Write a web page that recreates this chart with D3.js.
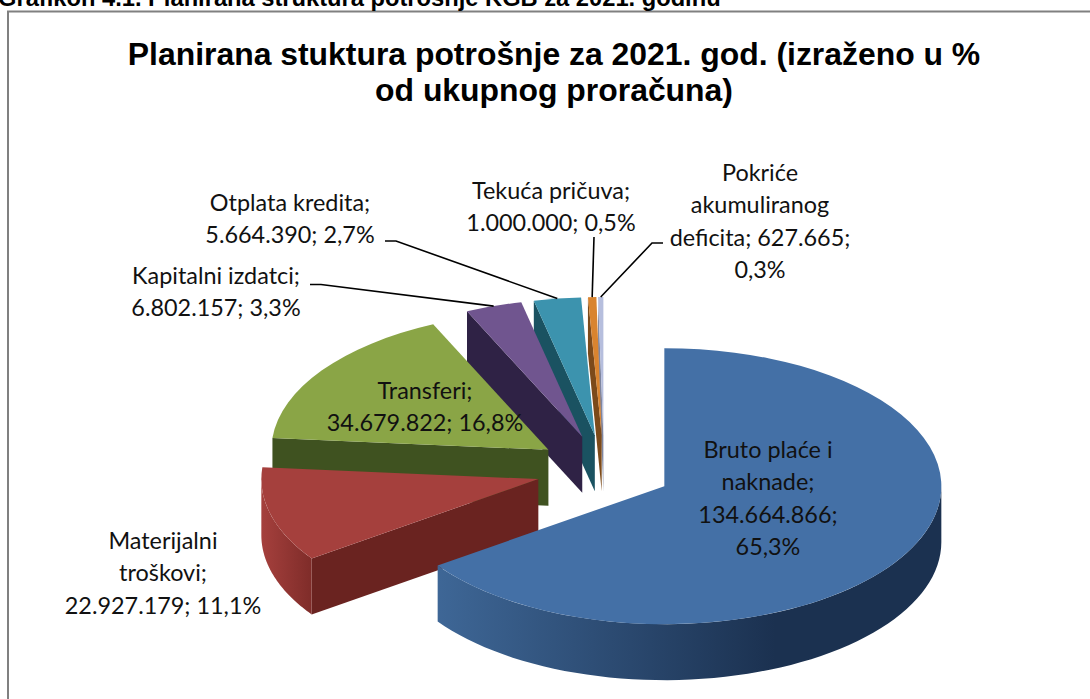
<!DOCTYPE html>
<html><head><meta charset="utf-8">
<style>html,body{margin:0;padding:0;background:#fff;overflow:hidden}svg{display:block}text{fill:#111}</style>
<script src="https://cdn.jsdelivr.net/npm/d3@7"></script></head>
<body><svg id="c" width="1090" height="699"></svg>
<script>
const categories = ["Bruto plaće i naknade","Materijalni troškovi","Transferi","Kapitalni izdatci","Otplata kredita","Tekuća pričuva","Pokriće akumuliranog deficita"];
const values = [134664866,22927179,34679822,6802157,5664390,1000000,627665];
const valueLabels = ["134.664.866","22.927.179","34.679.822","6.802.157","5.664.390","1.000.000","627.665"];
const percentLabels = ["65,3%","11,1%","16,8%","3,3%","2,7%","0,5%","0,3%"];
const topColors = ["#4470a6","#a5403d","#8aa546","#70558f","#3c93ae","#d9842f","#b6bedd"];
const wallColors = ["#3f6898","#6a2320","#3f5220","#2f2245","#1a5261","#7c4a1a","#7f86a0"];
const curveEnd = ["#1b3150","#7b2a27","#3f5220","#2f2245","#1a5261","#7c4a1a","#7f86a0"];
const titleLines = ["Planirana stuktura potrošnje za 2021. god. (izraženo u %","od ukupnog proračuna)"];
const headerText = "Grafikon 4.1. Planirana struktura potrošnje KGB za 2021. godinu";

const svg = d3.select("#c");
const Rx = 277, Ry = 138, depth = 56, cx = 604, cy = 470, ex = 68, ey = 35;

const slices = d3.pie().sort(null).value(d=>d)(values).map((s,i)=>{
  const mid=(s.startAngle+s.endAngle)/2;
  return {...s,i,mid,x:cx+ex*Math.sin(mid),y:cy-ey*Math.cos(mid)};
});
const pt=(s,a,dz=0)=>[s.x+Rx*Math.sin(a),s.y-Ry*Math.cos(a)+dz];
const arc=d3.arc().innerRadius(0).outerRadius(Rx);
const line=d3.line();

// frame + header
svg.append("path").attr("d","M8,699V11.5H1090").attr("fill","none").attr("stroke","#808080").attr("stroke-width",2);
svg.append("text").attr("x",-2).attr("y",6).attr("font-family","Liberation Sans").attr("font-weight","bold").attr("font-size",23.7).style("fill","#000").text(headerText);

// title
svg.selectAll("text.t").data(titleLines).join("text").attr("class","t")
  .attr("x",554).attr("y",(d,i)=>65+i*36).attr("text-anchor","middle")
  .attr("font-family","Liberation Sans").attr("font-weight","bold").attr("font-size",31.9).style("fill","#000").text(d=>d);

const defs=svg.append("defs");
slices.forEach(s=>{
  const g=defs.append("linearGradient").attr("id","w"+s.i).attr("gradientUnits","userSpaceOnUse")
    .attr("x1",s.i===1?s.x-Rx:s.x-Rx*0.85).attr("x2",s.i===1?s.x-Rx*0.8:s.x+Rx*0.4).attr("y1",0).attr("y2",0);
  g.append("stop").attr("offset",0).attr("stop-color",s.i===1?"#a5403d":wallColors[s.i]);
  g.append("stop").attr("offset",1).attr("stop-color",curveEnd[s.i]);
});

// back to front
const order=[6,5,4,3,2,1,0];
order.forEach(k=>{
  const s=slices[k], g=svg.append("g");
  const p=pt(s,s.startAngle);
  if(k!==0) g.append("path").attr("fill",wallColors[k])
    .attr("d",line([p,[s.x,s.y],[s.x,s.y+depth],[p[0],p[1]+depth]])+"Z");
  const a0=Math.max(s.startAngle,Math.PI/2), a1=Math.min(s.endAngle,Math.PI*1.5);
  if(a1>a0){
    const as=d3.range(0,61).map(t=>a0+(a1-a0)*t/60);
    const pts=as.map(a=>pt(s,a)).concat(as.slice().reverse().map(a=>pt(s,a,depth)));
    g.append("path").attr("fill",`url(#w${k})`).attr("d",line(pts)+"Z");
  }
  g.append("path").attr("fill",topColors[k])
    .attr("transform",`translate(${s.x},${s.y}) scale(1,${Ry/Rx})`)
    .attr("d",arc({startAngle:s.startAngle,endAngle:s.endAngle}));
});

// leaders
const leaderStart={3:[[310,284.5],[321,284.5]],4:[[385,241],[396,241]],5:[[594,237]],6:[[663,243],[652,243]]};
Object.keys(leaderStart).forEach(k=>{
  const s=slices[+k];
  svg.append("path").attr("fill","none").attr("stroke","#000").attr("stroke-width",1.6)
    .attr("d",line([...leaderStart[k],pt(s,s.mid)]));
});

// labels
const labelLines=[
  ["Bruto plaće i","naknade;",valueLabels[0]+";",percentLabels[0]],
  ["Materijalni","troškovi;",valueLabels[1]+"; "+percentLabels[1]],
  ["Transferi;",valueLabels[2]+"; "+percentLabels[2]],
  ["Kapitalni izdatci;",valueLabels[3]+"; "+percentLabels[3]],
  ["Otplata kredita;",valueLabels[4]+"; "+percentLabels[4]],
  ["Tekuća pričuva;",valueLabels[5]+"; "+percentLabels[5]],
  ["Pokriće","akumuliranog","deficita; "+valueLabels[6]+";",percentLabels[6]]
];
const labelAt=[[768,458],[163,549],[425,399],[216,284],[290,211],[551,199],[760,181]];
labelLines.forEach((ls,i)=>{
  svg.append("g").selectAll("text").data(ls).join("text")
    .attr("x",labelAt[i][0]).attr("y",(d,j)=>labelAt[i][1]+j*32.4).attr("text-anchor","middle")
    .attr("font-family","Lato").attr("font-size",23.4).text(d=>d);
});
</script></body></html>
